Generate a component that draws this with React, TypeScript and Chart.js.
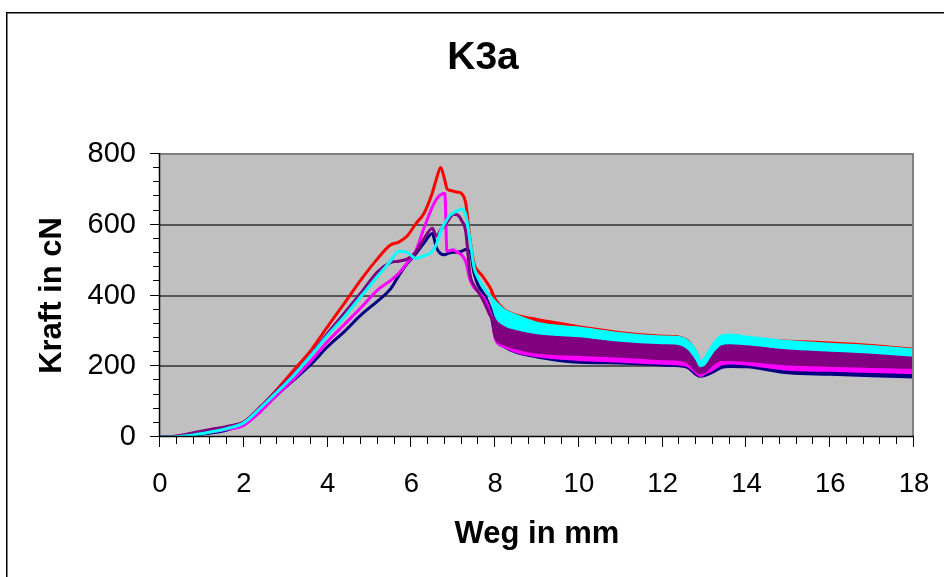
import React, { useEffect, useRef } from "react";
import { Chart, registerables } from "chart.js";

Chart.register(...registerables);

const TITLE = "K3a";
const X_TITLE = "Weg in mm";
const Y_TITLE = "Kraft in cN";

// Weg (mm) grid used for the upper/main trace of every sample
const WEG_MM = [
  0, 0.4, 0.8, 1.2, 1.6, 2.0, 2.4, 2.8, 3.2, 3.6, 4.0, 4.4, 4.8, 5.2, 5.5,
  5.7, 5.9, 6.1, 6.3, 6.5, 6.6, 6.7, 6.8, 6.85, 6.9, 7.0, 7.1, 7.2, 7.3, 7.4,
  7.5, 7.6, 7.7, 7.8, 7.9, 8.0, 8.2, 8.5, 9, 10, 11, 12, 12.4, 12.6, 12.8,
  12.9, 13.0, 13.2, 13.4, 13.6, 14, 15, 16, 17, 18,
];
// Weg (mm) grid of the noisy part (lower envelope of the scatter band)
const BAND_MM = [
  7.9, 8.0, 8.2, 8.5, 9, 10, 11, 12, 12.4, 12.6, 12.8, 12.9, 13.0, 13.2, 13.4,
  13.6, 14, 15, 16, 17, 18,
];

const RED_MAX = [
  0, 2, 10, 19, 28, 42, 85, 135, 190, 245, 312, 378, 445, 505, 543,
  551, 568, 602, 632, 690, 730, 762, 725, 702, 698, 695, 692, 688, 660, 560,
  488, 468, 455, 437, 418, 390, 362, 345, 332, 312, 295, 285, 282, 272, 238,
  212, 218, 252, 280, 285, 278, 271, 266, 259, 248,
];
const RED_MIN = [418, 345, 335, 325, 318, 300, 283, 273, 270, 260, 226, 200, 205, 240, 268, 272, 266, 259, 254, 247, 238];

const CYAN_MAX = [
  0, 1, 6, 14, 24, 40, 82, 128, 175, 230, 287, 340, 398, 455, 497,
  525, 522, 505, 512, 525, 545, 582, 605, 614, 624, 633, 640, 644, 628, 557,
  478, 448, 428, 410, 395, 382, 360, 343, 322, 308, 292, 283, 281, 270, 240,
  212, 222, 260, 285, 288, 283, 270, 262, 256, 246,
];
const CYAN_MIN = [395, 345, 318, 305, 293, 285, 272, 265, 262, 250, 220, 200, 205, 240, 262, 265, 262, 250, 244, 238, 230];

const PURPLE_MAX = [
  0, 3, 12, 21, 30, 42, 85, 132, 178, 232, 293, 350, 408, 468, 493,
  497, 503, 522, 560, 590, 568, 585, 600, 607, 615, 630, 628, 612, 580, 460,
  428, 410, 390, 365, 340, 335, 325, 310, 295, 279, 270, 262, 262, 255, 215,
  200, 210, 240, 262, 265, 262, 250, 244, 237, 234,
];
const PURPLE_MIN = [340, 280, 262, 250, 238, 232, 227, 220, 218, 210, 185, 180, 182, 205, 218, 218, 215, 205, 201, 198, 195];

const MAGENTA_MAX = [
  0, 2, 8, 14, 22, 33, 72, 120, 165, 215, 270, 318, 366, 416, 442,
  463, 492, 525, 590, 650, 672, 685, 688, 525, 526, 529, 522, 515, 495, 445,
  422, 410, 398, 378, 345, 330, 318, 302, 290, 272, 265, 258, 255, 248, 212,
  198, 205, 235, 255, 258, 255, 245, 240, 233, 230,
];
const MAGENTA_MIN = [345, 275, 255, 240, 228, 218, 213, 207, 205, 200, 180, 172, 178, 190, 205, 208, 205, 190, 187, 184, 180];

const NAVY_MAX = [
  0, 0, 5, 11, 20, 36, 75, 120, 162, 205, 255, 298, 345, 385, 418,
  456, 490, 517, 548, 575, 535, 518, 515, 518, 520, 522, 522, 525, 530, 525,
  462, 428, 410, 390, 360, 330, 318, 302, 288, 268, 262, 255, 252, 245, 210,
  195, 200, 230, 250, 255, 252, 242, 237, 230, 226,
];
const NAVY_MIN = [360, 280, 255, 238, 225, 210, 208, 202, 200, 195, 175, 170, 172, 182, 195, 198, 197, 180, 176, 172, 168];

const X_LABELS = [0, 2, 4, 6, 8, 10, 12, 14, 16, 18];
const Y_LABELS = [0, 200, 400, 600, 800];
const X_TICKS = Array.from({ length: 46 }, (_, i) => Math.round(i * 4) / 10);
const Y_TICKS = Array.from({ length: 21 }, (_, i) => i * 40);

// listed top-most first (Chart.js draws dataset 0 last)
const SERIES = [
  { name: "Probe 4", color: "#00FFFF", max: CYAN_MAX, min: CYAN_MIN },
  { name: "Probe 5", color: "#800080", max: PURPLE_MAX, min: PURPLE_MIN },
  { name: "Probe 2", color: "#FF00FF", max: MAGENTA_MAX, min: MAGENTA_MIN },
  { name: "Probe 1", color: "#000080", max: NAVY_MAX, min: NAVY_MIN },
  { name: "Probe 3", color: "#FF0000", max: RED_MAX, min: RED_MIN },
];

const FONT = "'Liberation Sans', Arial, Helvetica, sans-serif";

const excelFrame = {
  id: "excelFrame",
  beforeDraw(chart: any) {
    const { ctx, chartArea: a, width, height } = chart;
    ctx.save();
    ctx.fillStyle = "#ffffff";
    ctx.fillRect(0, 0, width, height);
    ctx.strokeStyle = "#000000";
    ctx.lineWidth = 1.5;
    ctx.beginPath();
    ctx.moveTo(6.75, height + 5);
    ctx.lineTo(6.75, 12.75);
    ctx.lineTo(width + 5, 12.75);
    ctx.stroke();
    ctx.fillStyle = "#c0c0c0";
    ctx.fillRect(a.left, a.top, a.right - a.left, a.bottom - a.top);
    ctx.restore();
  },
  afterDraw(chart: any) {
    const { ctx, chartArea: a, scales } = chart;
    const xs = scales.x;
    const ys = scales.y;
    ctx.save();
    ctx.strokeStyle = "#808080";
    ctx.lineWidth = 2;
    ctx.beginPath();
    ctx.moveTo(a.left, a.top);
    ctx.lineTo(a.right - 1, a.top);
    ctx.lineTo(a.right - 1, a.bottom);
    ctx.stroke();
    ctx.strokeStyle = "#000000";
    ctx.lineWidth = 1.5;
    ctx.beginPath();
    ctx.moveTo(a.left - 0.5, a.top - 1);
    ctx.lineTo(a.left - 0.5, a.bottom - 0.5);
    ctx.lineTo(a.right, a.bottom - 0.5);
    ctx.stroke();
    ctx.lineWidth = 1;
    ctx.beginPath();
    for (const v of X_TICKS) {
      const px = Math.round(xs.getPixelForValue(v)) - 0.5;
      const len = X_LABELS.includes(v) ? 10 : 7;
      ctx.moveTo(px, a.bottom);
      ctx.lineTo(px, a.bottom + len);
    }
    for (const v of Y_TICKS) {
      const py = Math.round(ys.getPixelForValue(v)) - 0.5;
      const len = Y_LABELS.includes(v) ? 10 : 7;
      ctx.moveTo(a.left, py);
      ctx.lineTo(a.left - len, py);
    }
    ctx.stroke();
    ctx.restore();
  },
};

export default function App() {
  const ref = useRef<HTMLCanvasElement | null>(null);

  useEffect(() => {
    if (!ref.current) return;
    const datasets: any[] = [];
    SERIES.forEach((s) => {
      datasets.push({
        label: s.name,
        data: WEG_MM.map((x, i) => ({ x, y: s.max[i] })),
        borderColor: s.color,
        backgroundColor: s.color,
        borderWidth: 3,
        pointRadius: 0,
        cubicInterpolationMode: "monotone",
        fill: false,
      });
      datasets.push({
        label: s.name + " min",
        data: BAND_MM.map((x, i) => ({ x, y: s.min[i] })),
        borderColor: s.color,
        backgroundColor: s.color,
        borderWidth: 2,
        pointRadius: 0,
        cubicInterpolationMode: "monotone",
        fill: "-1",
      });
    });

    const chart = new Chart(ref.current, {
      type: "line",
      data: { datasets },
      plugins: [excelFrame],
      options: {
        animation: false,
        responsive: false,
        devicePixelRatio: 1,
        events: [],
        layout: { padding: { left: 22, right: 0, top: 0, bottom: 0 } },
        plugins: {
          legend: { display: false },
          tooltip: { enabled: false },
          title: {
            display: true,
            text: TITLE,
            color: "#000000",
            font: { family: FONT, size: 39, weight: "bold" },
            padding: { top: 35, bottom: 72.2 },
          },
        },
        scales: {
          x: {
            type: "linear",
            position: "bottom",
            min: 0,
            max: 18,
            afterBuildTicks: (s: any) => {
              s.ticks = X_TICKS.map((v) => ({ value: v }));
            },
            afterFit: (s: any) => {
              s.height = 140;
              s.paddingLeft = 0;
              s.paddingRight = 16;
            },
            ticks: {
              autoSkip: false,
              maxRotation: 0,
              minRotation: 0,
              padding: 31,
              color: "#000000",
              font: { family: FONT, size: 27.5 },
              callback: (v: any) => (X_LABELS.includes(v) ? String(v) : ""),
            },
            grid: { display: false, drawTicks: false },
            border: { display: false },
            title: {
              display: true,
              text: X_TITLE,
              color: "#000000",
              font: { family: FONT, size: 31, weight: "bold" },
              padding: { top: 0, bottom: 24 },
            },
          },
          y: {
            type: "linear",
            position: "left",
            min: 0,
            max: 800,
            afterBuildTicks: (s: any) => {
              s.ticks = Y_TICKS.map((v) => ({ value: v }));
            },
            afterFit: (s: any) => {
              s.width = 138;
            },
            ticks: {
              autoSkip: false,
              padding: 24,
              color: "#000000",
              font: { family: FONT, size: 29 },
              callback: (v: any) => (Y_LABELS.includes(v) ? String(v) : ""),
            },
            grid: {
              drawTicks: false,
              lineWidth: 2,
              color: (c: any) =>
                c.tick && Y_LABELS.includes(c.tick.value) && c.tick.value > 0 && c.tick.value < 800
                  ? "#555555"
                  : "rgba(0,0,0,0)",
            },
            border: { display: false },
            title: {
              display: true,
              text: Y_TITLE,
              color: "#000000",
              font: { family: FONT, size: 31, weight: "bold" },
              padding: { top: 12, bottom: 0 },
            },
          },
          yR: {
            type: "linear",
            position: "right",
            display: true,
            afterFit: (s: any) => {
              s.width = 30;
            },
            ticks: { display: false },
            grid: { display: false, drawTicks: false },
            border: { display: false },
          },
        },
      } as any,
    });
    return () => chart.destroy();
  }, []);

  return (
    <div style={{ position: "fixed", left: 0, top: 0, width: 944, height: 577, background: "#ffffff" }}>
      <canvas ref={ref} width={944} height={577} style={{ display: "block", width: 944, height: 577 }} />
    </div>
  );
}
